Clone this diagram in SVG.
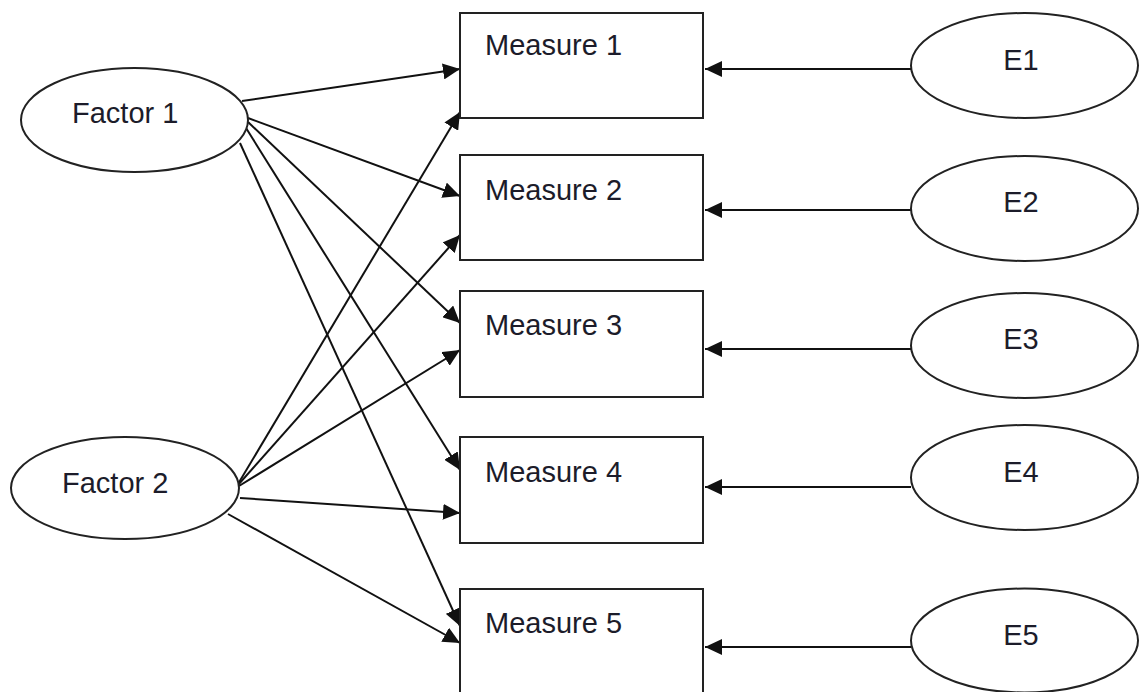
<svg xmlns="http://www.w3.org/2000/svg" width="1139" height="692" viewBox="0 0 1139 692">
<style>
.n{fill:#fff;stroke:#222;stroke-width:2}
.t{font-family:"Liberation Sans",Arial,sans-serif;font-size:29px;fill:#1c1c2a}
.c{stroke:#111;stroke-width:2;fill:none;marker-end:url(#ah)}
</style>
<defs>
<marker id="ah" markerUnits="userSpaceOnUse" markerWidth="17" markerHeight="16" refX="17" refY="8" orient="auto">
<path d="M0,0 L17,8 L0,16 z" fill="#111"/>
</marker>
</defs>
<rect width="1139" height="692" fill="#fff"/>
<g id="connectors">
<line class="c" x1="242" y1="101" x2="460" y2="69"/>
<line class="c" x1="248" y1="118" x2="460" y2="196"/>
<line class="c" x1="248" y1="122" x2="460" y2="323"/>
<line class="c" x1="246" y1="128" x2="460" y2="470"/>
<line class="c" x1="240" y1="143" x2="460" y2="626"/>
<line class="c" x1="238" y1="484" x2="460" y2="112"/>
<line class="c" x1="238" y1="485" x2="460" y2="235"/>
<line class="c" x1="239" y1="486" x2="460" y2="350"/>
<line class="c" x1="240" y1="498" x2="460" y2="513"/>
<line class="c" x1="228" y1="514" x2="460" y2="643"/>
<line class="c" x1="911" y1="69" x2="705" y2="69"/>
<line class="c" x1="911" y1="210" x2="705" y2="210"/>
<line class="c" x1="911" y1="349" x2="705" y2="349"/>
<line class="c" x1="911" y1="487" x2="705" y2="487"/>
<line class="c" x1="911" y1="647" x2="705" y2="647"/>
</g>
<g id="factor1"><ellipse class="n" cx="134.5" cy="120" rx="113.5" ry="52"/><text class="t" x="72" y="123">Factor 1</text></g>
<g id="factor2"><ellipse class="n" cx="125" cy="488" rx="114" ry="51"/><text class="t" x="62" y="493">Factor 2</text></g>
<g id="measure1"><rect class="n" x="460" y="13" width="243" height="105"/><text class="t" x="485" y="55">Measure 1</text></g>
<g id="measure2"><rect class="n" x="460" y="155" width="243" height="105"/><text class="t" x="485" y="200">Measure 2</text></g>
<g id="measure3"><rect class="n" x="460" y="291" width="243" height="106"/><text class="t" x="485" y="335">Measure 3</text></g>
<g id="measure4"><rect class="n" x="460" y="437" width="243" height="106"/><text class="t" x="485" y="482">Measure 4</text></g>
<g id="measure5"><rect class="n" x="460" y="589" width="243" height="110"/><text class="t" x="485" y="633">Measure 5</text></g>
<g id="e1"><ellipse class="n" cx="1024.5" cy="65.5" rx="113.5" ry="52.5"/><text class="t" x="1021" y="70" text-anchor="middle">E1</text></g>
<g id="e2"><ellipse class="n" cx="1024.5" cy="208.5" rx="113.5" ry="52.5"/><text class="t" x="1021" y="212" text-anchor="middle">E2</text></g>
<g id="e3"><ellipse class="n" cx="1024.5" cy="345.5" rx="113.5" ry="52.5"/><text class="t" x="1021" y="349" text-anchor="middle">E3</text></g>
<g id="e4"><ellipse class="n" cx="1024.5" cy="477.5" rx="113.5" ry="52.5"/><text class="t" x="1021" y="482" text-anchor="middle">E4</text></g>
<g id="e5"><ellipse class="n" cx="1024.5" cy="640.5" rx="113.5" ry="52"/><text class="t" x="1021" y="645" text-anchor="middle">E5</text></g>
</svg>
